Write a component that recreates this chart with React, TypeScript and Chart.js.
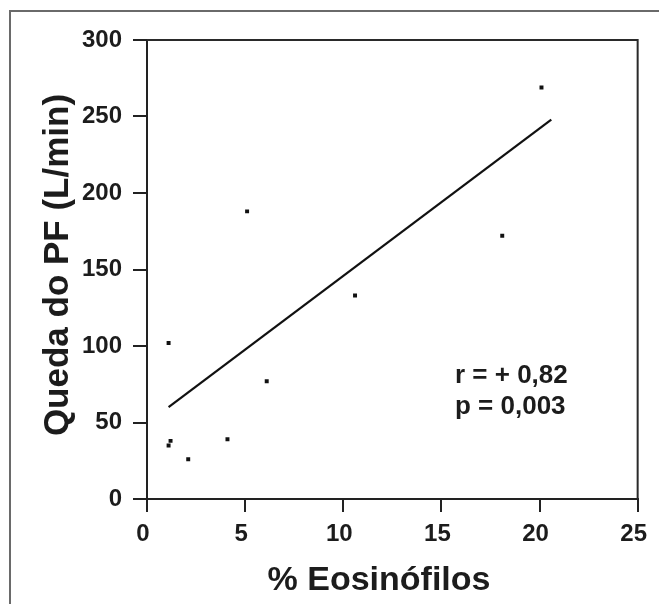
import React, { useEffect, useRef } from "react";
import { Chart, registerables } from "chart.js";

Chart.register(...registerables);

// Scatter data
const eosinofilos: number[] = [1.1, 1.1, 1.2, 2.1, 4.1, 5.1, 6.1, 10.6, 18.1, 20.1];
const quedaPF: number[] = [102, 35, 38, 26, 39, 188, 77, 133, 172, 269];

// Regression line end points
const regX: number[] = [1.1, 20.6];
const regY: number[] = [60, 248];

const xTitle = "% Eosinófilos";
const yTitle = "Queda do PF (L/min)";
const statLines: string[] = ["r = + 0,82", "p = 0,003"];

const FONT = '"Liberation Sans", Arial, Helvetica, sans-serif';
const INK = "#1c1c1c";

export default function App() {
  const ref = useRef<HTMLCanvasElement | null>(null);

  useEffect(() => {
    document.body.style.margin = "0";
    const canvas = ref.current;
    if (!canvas) return;

    const decor = {
      id: "decor",
      afterDraw(chart: any) {
        const ctx = chart.ctx as CanvasRenderingContext2D;
        const a = chart.chartArea;
        ctx.save();
        // outer frame (top + left)
        ctx.strokeStyle = "#6a6a6a";
        ctx.lineWidth = 2;
        ctx.beginPath();
        ctx.moveTo(659, 11);
        ctx.lineTo(10, 11);
        ctx.lineTo(10, 604);
        ctx.stroke();
        // plot box top + right
        ctx.strokeStyle = "#2a2a2a";
        ctx.lineWidth = 2;
        ctx.beginPath();
        ctx.moveTo(a.left, a.top);
        ctx.lineTo(a.right, a.top);
        ctx.lineTo(a.right, a.bottom);
        ctx.stroke();
        // titles
        ctx.fillStyle = INK;
        ctx.font = `bold 34px ${FONT}`;
        ctx.textAlign = "center";
        ctx.textBaseline = "alphabetic";
        ctx.fillText(xTitle, 379, 590);
        ctx.save();
        ctx.translate(68, 265);
        ctx.rotate(-Math.PI / 2);
        ctx.font = `bold 35px ${FONT}`;
        ctx.fillText(yTitle, 0, 0);
        ctx.restore();
        // statistics
        ctx.font = `bold 26px ${FONT}`;
        ctx.textAlign = "left";
        ctx.fillText(statLines[0], 455, 383);
        ctx.fillText(statLines[1], 455, 414);
        ctx.restore();
      },
    };

    const chart = new Chart(canvas, {
      type: "scatter",
      data: {
        datasets: [
          {
            type: "scatter",
            data: eosinofilos.map((x, i) => ({ x, y: quedaPF[i] })),
            pointStyle: "rect",
            pointRadius: 2.8,
            backgroundColor: "#111",
            borderColor: "#111",
            borderWidth: 0,
          },
          {
            type: "line",
            data: regX.map((x, i) => ({ x, y: regY[i] })),
            borderColor: "#111",
            borderWidth: 2.2,
            pointRadius: 0,
            fill: false,
          } as any,
        ],
      },
      options: {
        animation: false,
        responsive: false,
        devicePixelRatio: 1,
        layout: { padding: { left: 0, right: 19, top: 40, bottom: 0 } },
        plugins: { legend: { display: false }, tooltip: { enabled: false } },
        scales: {
          x: {
            type: "linear",
            min: 0,
            max: 25,
            afterFit: (s: any) => {
              s.height = 105;
            },
            ticks: {
              stepSize: 5,
              padding: 8,
              labelOffset: -4,
              color: INK,
              font: { family: FONT, size: 24, weight: "bold" },
            },
            grid: {
              drawOnChartArea: false,
              drawTicks: true,
              tickLength: 13,
              color: "#222",
              lineWidth: 2,
            },
            border: { color: "#222", width: 2 },
          },
          y: {
            type: "linear",
            min: 0,
            max: 300,
            afterFit: (s: any) => {
              s.width = 147;
            },
            ticks: {
              stepSize: 50,
              padding: 11,
              color: INK,
              font: { family: FONT, size: 24, weight: "bold" },
            },
            grid: {
              drawOnChartArea: false,
              drawTicks: true,
              tickLength: 14,
              color: "#222",
              lineWidth: 2,
            },
            border: { color: "#222", width: 2 },
          },
        },
      },
      plugins: [decor],
    });

    return () => chart.destroy();
  }, []);

  return (
    <div style={{ width: 659, height: 604, background: "#fff" }}>
      <canvas ref={ref} width={659} height={604} style={{ display: "block" }} />
    </div>
  );
}
